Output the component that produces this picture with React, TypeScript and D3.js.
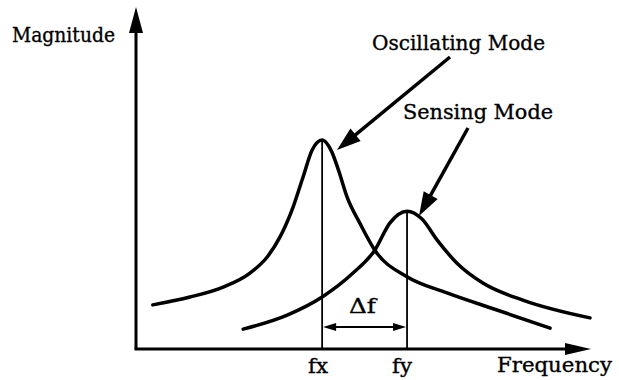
import React from "react";
import * as d3 from "d3";

// frequency (0..100) and magnitude (0..100)
const oscFreq = [3.7, 11.9, 19.2, 25.1, 28.9, 31.7, 34.6, 36.8, 38.8, 41.0, 43.0, 44.6, 46.5, 49.3, 52.6, 59.7, 68.5, 79.5, 91.2];
const oscMag = [12.9, 15.2, 18.1, 22.2, 26.9, 32.7, 41.5, 50.3, 58.2, 61.1, 58.0, 52.3, 44.4, 36.8, 28.9, 21.1, 16.4, 11.4, 6.1];
const senFreq = [23.6, 33.3, 41.0, 47.8, 52.6, 55.9, 59.7, 63.0, 66.3, 70.7, 76.4, 85.2, 100];
const senMag = [5.8, 9.9, 15.2, 22.2, 28.9, 36.8, 40.3, 38.0, 31.9, 25.1, 19.3, 14.3, 9.1];
const fx = 41.0;
const fy = 59.7;
const tickLabels = ["fx", "fy"];
const seriesLabels = ["Oscillating Mode", "Sensing Mode"];

const W = 619;
const H = 380;
const FONT = "'DejaVu Serif', 'Liberation Serif', serif";

export default function App() {
  const x = d3.scaleLinear().domain([0, 100]).range([136, 590]);
  const y = d3.scaleLinear().domain([0, 100]).range([349, 7]);

  const line = d3
    .line<[number, number]>()
    .x((d) => x(d[0]))
    .y((d) => y(d[1]))
    .curve(d3.curveMonotoneX);

  const osc = oscFreq.map((f, i) => [f, oscMag[i]] as [number, number]);
  const sen = senFreq.map((f, i) => [f, senMag[i]] as [number, number]);
  const oscPeak = oscMag[oscFreq.indexOf(fx)];
  const senPeak = d3.max(senMag) as number;

  const x0 = x(0);
  const y0 = y(0);

  const head = (tx: number, ty: number, fx0: number, fy0: number, len: number, hw: number) => {
    const dx = tx - fx0;
    const dy = ty - fy0;
    const L = Math.hypot(dx, dy);
    const ux = dx / L;
    const uy = dy / L;
    const bx = tx - ux * len;
    const by = ty - uy * len;
    const px = -uy * hw;
    const py = ux * hw;
    return `${tx},${ty} ${bx + px},${by + py} ${bx - px},${by - py}`;
  };

  const oscArrow = { x1: 450, y1: 57, x2: 337, y2: 150 };
  const senArrow = { x1: 468, y1: 128, x2: 419, y2: 216 };
  const dfY = 327;
  const txt = { fontFamily: FONT, stroke: "#000", strokeWidth: 0.35, lengthAdjust: "spacingAndGlyphs" as const };

  return (
    <svg
      width={W}
      height={H}
      style={{ position: "absolute", left: 0, top: 0, background: "#fff" }}
    >
      <rect width={W} height={H} fill="#fff" />
      {/* axes */}
      <line x1={x0} y1={y0} x2={x0} y2={28} stroke="#000" strokeWidth={3} />
      <polygon points={`${x0},7 ${x0 - 7},33 ${x0 + 7},33`} fill="#000" />
      <line x1={x0 - 1.5} y1={y0} x2={570} y2={y0} stroke="#000" strokeWidth={3} />
      <polygon points={`591,${y0} 565,${y0 - 6} 565,${y0 + 6}`} fill="#000" />

      {/* resonance lines */}
      <line x1={x(fx)} y1={y0} x2={x(fx)} y2={y(oscPeak) + 1} stroke="#000" strokeWidth={1.8} />
      <line x1={x(fy)} y1={y0} x2={x(fy)} y2={y(senPeak) + 1} stroke="#000" strokeWidth={1.8} />

      {/* curves */}
      <path d={line(osc) || ""} fill="none" stroke="#000" strokeWidth={3.5} strokeLinecap="round" />
      <path d={line(sen) || ""} fill="none" stroke="#000" strokeWidth={3.5} strokeLinecap="round" />

      {/* delta f arrow */}
      <line x1={x(fx) + 8} y1={dfY} x2={x(fy) - 8} y2={dfY} stroke="#000" strokeWidth={1.8} />
      <polygon points={head(x(fx) + 1, dfY, x(fy), dfY, 13, 4)} fill="#000" />
      <polygon points={head(x(fy) - 1, dfY, x(fx), dfY, 13, 4)} fill="#000" />
      <text x={349} y={313} fontSize={20} textLength={27} {...txt}>
        Δf
      </text>

      {/* annotation arrows */}
      <line
        x1={oscArrow.x1}
        y1={oscArrow.y1}
        x2={oscArrow.x2 + (oscArrow.x1 - oscArrow.x2) * 0.12}
        y2={oscArrow.y2 + (oscArrow.y1 - oscArrow.y2) * 0.12}
        stroke="#000"
        strokeWidth={3.5}
      />
      <polygon points={head(oscArrow.x2, oscArrow.y2, oscArrow.x1, oscArrow.y1, 24, 8)} fill="#000" />
      <line
        x1={senArrow.x1}
        y1={senArrow.y1}
        x2={senArrow.x2 + (senArrow.x1 - senArrow.x2) * 0.15}
        y2={senArrow.y2 + (senArrow.y1 - senArrow.y2) * 0.15}
        stroke="#000"
        strokeWidth={3.5}
      />
      <polygon points={head(senArrow.x2, senArrow.y2, senArrow.x1, senArrow.y1, 24, 8)} fill="#000" />

      {/* labels */}
      <text x={12} y={42} fontSize={20} textLength={103} {...txt}>
        Magnitude
      </text>
      <text x={372} y={50} fontSize={21} textLength={173} {...txt}>
        {seriesLabels[0]}
      </text>
      <text x={403} y={119} fontSize={21} textLength={150} {...txt}>
        {seriesLabels[1]}
      </text>
      <text x={497} y={372} fontSize={20} textLength={115} {...txt}>
        Frequency
      </text>
      <text x={308} y={373} fontSize={20} textLength={20} {...txt}>
        {tickLabels[0]}
      </text>
      <text x={392} y={373} fontSize={20} textLength={20} {...txt}>
        {tickLabels[1]}
      </text>
    </svg>
  );
}
